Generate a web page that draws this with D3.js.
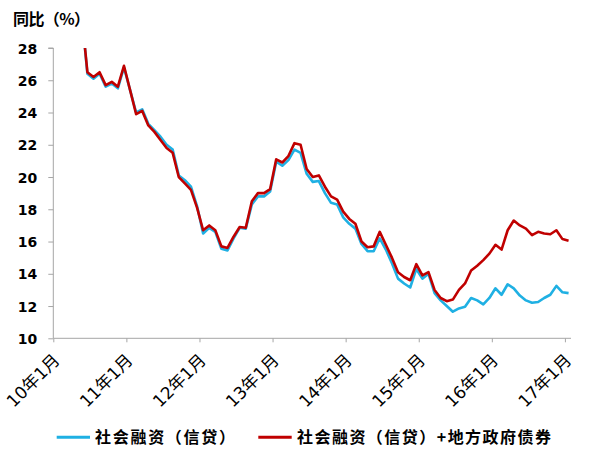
<!DOCTYPE html>
<html>
<head>
<meta charset="utf-8">
<script src="https://cdn.jsdelivr.net/npm/d3@7"></script>
<style>
  html, body { margin: 0; padding: 0; background: #fff; }
  svg { display: block; }
</style>
</head>
<body>
<svg id="chart" width="600" height="455"></svg>
<script>
// ---------- DATA ----------
const months = [
  "2010-06","2010-07","2010-08","2010-09","2010-10","2010-11","2010-12",
  "2011-01","2011-02","2011-03","2011-04","2011-05","2011-06","2011-07","2011-08","2011-09","2011-10","2011-11","2011-12",
  "2012-01","2012-02","2012-03","2012-04","2012-05","2012-06","2012-07","2012-08","2012-09","2012-10","2012-11","2012-12",
  "2013-01","2013-02","2013-03","2013-04","2013-05","2013-06","2013-07","2013-08","2013-09","2013-10","2013-11","2013-12",
  "2014-01","2014-02","2014-03","2014-04","2014-05","2014-06","2014-07","2014-08","2014-09","2014-10","2014-11","2014-12",
  "2015-01","2015-02","2015-03","2015-04","2015-05","2015-06","2015-07","2015-08","2015-09","2015-10","2015-11","2015-12",
  "2016-01","2016-02","2016-03","2016-04","2016-05","2016-06","2016-07","2016-08","2016-09","2016-10","2016-11","2016-12",
  "2017-01","2017-02"
];
const seriesNames = ["社会融资（信贷）", "社会融资（信贷）+地方政府债券"];
// 社会融资（信贷）
const credit = [
  30.3,26.4,26.1,26.4,25.6,25.8,25.5,
  26.8,25.4,24.0,24.2,23.3,22.9,22.5,22.0,21.7,20.1,19.8,19.4,
  18.2,16.5,16.85,16.6,15.55,15.45,16.2,16.85,16.8,18.3,18.8,18.8,
  19.1,20.95,20.7,21.05,21.7,21.5,20.2,19.7,19.75,19.0,18.4,18.3,
  17.5,17.1,16.8,15.85,15.4,15.4,16.2,15.5,14.65,13.7,13.4,13.15,
  14.3,13.7,14.0,12.8,12.35,12.0,11.65,11.85,11.95,12.5,12.35,12.1,
  12.5,13.1,12.7,13.35,13.1,12.65,12.35,12.2,12.25,12.5,12.7,13.25,
  12.85,12.8
];
// 社会融资（信贷）+地方政府债券
const creditPlusBonds = [
  30.3,26.5,26.2,26.5,25.7,25.9,25.6,
  26.9,25.4,23.9,24.1,23.2,22.8,22.3,21.8,21.5,20.0,19.6,19.2,
  18.1,16.7,17.0,16.7,15.7,15.6,16.3,16.9,16.85,18.5,19.0,19.0,
  19.25,21.1,20.9,21.3,22.1,22.0,20.5,20.0,20.1,19.4,18.8,18.6,
  17.85,17.4,17.1,16.0,15.65,15.7,16.6,15.8,15.0,14.1,13.8,13.6,
  14.6,13.9,14.1,13.0,12.5,12.3,12.4,13.0,13.4,14.2,14.5,14.85,
  15.25,15.8,15.5,16.7,17.3,17.0,16.8,16.4,16.6,16.5,16.45,16.7,
  16.15,16.05
];
const xTickLabels = ["10年1月","11年1月","12年1月","13年1月","14年1月","15年1月","16年1月","17年1月"];
const yTicks = [10,12,14,16,18,20,22,24,26,28];
const yTitle = "同比（%）";

// ---------- LAYOUT ----------
const svg = d3.select("#chart");
const plot = { left: 53.3, right: 571, top: 48, bottom: 338.3 };
const monthIndex = s => { const [y, m] = s.split("-").map(Number); return (y - 2010) * 12 + (m - 1); };
const POINT_SHIFT = -0.4;
const x = d3.scaleLinear().domain([0, 85]).range([plot.left, plot.right]);
const y = d3.scaleLinear().domain([10, 28]).range([plot.bottom, plot.top]);
const axisColor = "#a6a6a6";
const colors = ["#1fb0e3", "#c00000"];

svg.append("rect").attr("width", 600).attr("height", 455).attr("fill", "#fff");

svg.append("defs").append("clipPath").attr("id", "clip")
  .append("rect").attr("x", plot.left).attr("y", plot.top)
  .attr("width", plot.right - plot.left).attr("height", plot.bottom - plot.top);

// Y axis
const yAxis = d3.axisLeft(y).tickValues(yTicks).tickSize(5).tickPadding(11).tickFormat(d3.format("d"));
const yg = svg.append("g").attr("transform", `translate(${plot.left},0)`).call(yAxis);
yg.select(".domain").attr("stroke", axisColor).attr("d", `M-5,${plot.top}H0V${plot.bottom}`);
yg.selectAll(".tick line").attr("stroke", axisColor);
yg.selectAll(".tick text")
  .attr("font-family", "DejaVu Sans, sans-serif").attr("font-weight", "bold")
  .attr("font-size", 14).attr("fill", "#000").attr("dy", "0.36em");

// X axis
const xTickVals = xTickLabels.map((_, i) => i * 12);
const xAxis = d3.axisBottom(x).tickValues(xTickVals).tickSize(4).tickFormat((d, i) => xTickLabels[i]);
const xg = svg.append("g").attr("transform", `translate(0,${plot.bottom})`).call(xAxis);
xg.select(".domain").attr("stroke", axisColor).attr("d", `M${plot.left},0H${plot.right}`);
xg.selectAll(".tick line").attr("stroke", axisColor);
xg.selectAll(".tick text")
  .attr("font-family", "DejaVu Sans, 'Noto Sans CJK SC', sans-serif")
  .attr("font-size", 17).attr("fill", "#000")
  .attr("text-anchor", "end")
  .attr("dy", 0).attr("y", 0)
  .attr("transform", "translate(7,23) rotate(-45)");

// Title
svg.append("text").attr("x", 13).attr("y", 25)
  .attr("font-family", "'Noto Sans CJK SC', sans-serif").attr("font-weight", "bold")
  .attr("font-size", 16).attr("fill", "#000")
  .attr("textLength", 77).attr("lengthAdjust", "spacing")
  .text(yTitle);

// Lines
const line = d3.line()
  .x((d, i) => x(monthIndex(months[i]) + POINT_SHIFT))
  .y(d => y(d));
const lg = svg.append("g").attr("clip-path", "url(#clip)");
[credit, creditPlusBonds].forEach((s, k) => {
  lg.append("path").datum(s)
    .attr("fill", "none").attr("stroke", colors[k])
    .attr("stroke-width", 2.6).attr("stroke-linejoin", "round")
    .attr("d", line);
});

// Legend
const legendItems = [
  { x1: 56.7, x2: 90, tx: 95, len: 140 },
  { x1: 258.3, x2: 291.7, tx: 297, len: 254 }
];
const legY = 437.3;
legendItems.forEach((it, k) => {
  svg.append("line").attr("x1", it.x1).attr("x2", it.x2).attr("y1", legY).attr("y2", legY)
    .attr("stroke", colors[k]).attr("stroke-width", 3);
  svg.append("text").attr("x", it.tx).attr("y", legY).attr("dy", "0.36em")
    .attr("font-family", "'Noto Sans CJK SC', sans-serif").attr("font-weight", "bold")
    .attr("font-size", 16).attr("fill", "#000")
    .attr("textLength", it.len).attr("lengthAdjust", "spacing")
    .text(seriesNames[k]);
});
</script>
</body>
</html>
